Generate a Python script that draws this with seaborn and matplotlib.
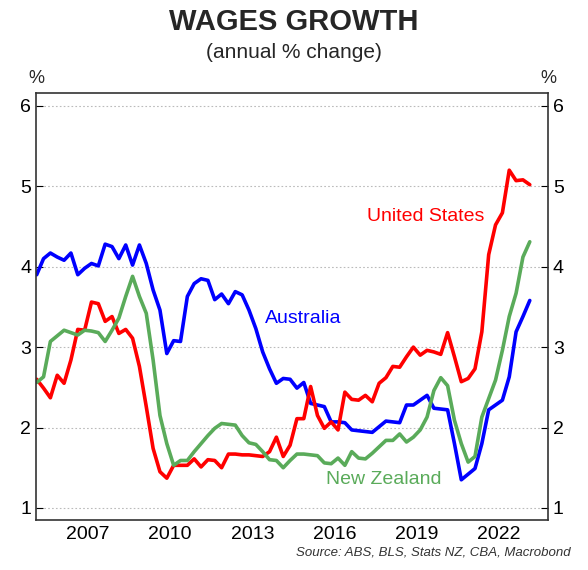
import numpy as np
import pandas as pd
import seaborn as sns
import matplotlib
matplotlib.use("Agg")
import matplotlib.pyplot as plt

australia = [3.90, 4.10, 4.17, 4.12, 4.08, 4.17, 3.90, 3.98, 4.04, 4.01, 4.28, 4.25, 4.10, 4.27, 4.02,
             4.27, 4.04, 3.71, 3.46, 2.92, 3.08, 3.07, 3.63, 3.79, 3.85, 3.83, 3.59, 3.66, 3.54, 3.69,
             3.65, 3.46, 3.23, 2.94, 2.73, 2.55, 2.61, 2.60, 2.49, 2.56, 2.30, 2.28, 2.26, 2.07, 2.07,
             2.06, 1.97, 1.96, 1.95, 1.94, 2.01, 2.08, 2.07, 2.06, 2.28, 2.28, 2.34, 2.40, 2.24, 2.23,
             2.22, 1.80, 1.35, 1.42, 1.49, 1.80, 2.22, 2.28, 2.34, 2.63, 3.19, 3.38, 3.58]
united_states = [2.60, 2.49, 2.37, 2.65, 2.55, 2.84, 3.22, 3.21, 3.56, 3.54, 3.32, 3.38, 3.17, 3.22, 3.11,
                 2.76, 2.26, 1.74, 1.45, 1.37, 1.53, 1.53, 1.53, 1.61, 1.51, 1.60, 1.59, 1.50, 1.67, 1.67,
                 1.66, 1.66, 1.65, 1.64, 1.70, 1.88, 1.64, 1.78, 2.11, 2.11, 2.51, 2.15, 1.99, 2.07, 1.97,
                 2.44, 2.35, 2.34, 2.40, 2.32, 2.55, 2.62, 2.76, 2.75, 2.88, 3.00, 2.90, 2.96, 2.94, 2.91,
                 3.18, 2.88, 2.57, 2.61, 2.73, 3.19, 4.15, 4.52, 4.67, 5.20, 5.07, 5.08, 5.02]
new_zealand = [2.56, 2.63, 3.07, 3.14, 3.21, 3.18, 3.15, 3.21, 3.20, 3.18, 3.07, 3.21, 3.36, 3.63, 3.88,
               3.63, 3.42, 2.84, 2.15, 1.80, 1.53, 1.59, 1.59, 1.70, 1.80, 1.90, 1.99, 2.05, 2.04, 2.03,
               1.90, 1.81, 1.79, 1.70, 1.60, 1.59, 1.50, 1.59, 1.67, 1.67, 1.66, 1.65, 1.56, 1.55, 1.62,
               1.53, 1.70, 1.62, 1.61, 1.68, 1.76, 1.84, 1.84, 1.92, 1.82, 1.88, 1.97, 2.13, 2.46, 2.62,
               2.52, 2.09, 1.80, 1.57, 1.64, 2.13, 2.36, 2.59, 2.96, 3.38, 3.67, 4.12, 4.31]
years = 2005.125 + 0.25 * np.arange(len(australia))
year_ticks = [2007, 2010, 2013, 2016, 2019, 2022]
y_ticks = [1, 2, 3, 4, 5, 6]

series = {"Australia": (australia, "#0000ff"),
          "United States": (united_states, "#ff0000"),
          "New Zealand": (new_zealand, "#5aab5a")}

df = pd.DataFrame({"year": np.tile(years, 3),
                   "value": australia + united_states + new_zealand,
                   "country": np.repeat(list(series.keys()), len(years))})

sns.set_style("white")
plt.rcParams["font.family"] = ["Liberation Sans", "DejaVu Sans"]

fig = plt.figure(figsize=(5.88, 5.70), dpi=100)
ax = fig.add_axes([36 / 588, 50 / 570, 512 / 588, 427 / 570])

sns.lineplot(data=df, x="year", y="value", hue="country",
             palette={k: v[1] for k, v in series.items()}, linewidth=2.6,
             legend=False, ax=ax)

ax.set_xlim(2005.1, 2023.79)
ax.set_ylim(0.85, 6.16)
ax.set_xticks(year_ticks)
ax.set_yticks(y_ticks)
ax.set_xlabel("")
ax.set_ylabel("")
ax.grid(axis="y", color="#bbbbbb", linestyle=(0, (1.5, 2)), linewidth=0.8)
ax.tick_params(axis="x", direction="in", length=5, labelsize=14, pad=4, colors="black")
ax.tick_params(axis="y", direction="in", length=5, labelsize=14, left=True, right=True,
               labelleft=True, labelright=True, colors="black")
for s in ax.spines.values():
    s.set_color("#333333")
    s.set_linewidth(1.2)

ax.text(2013.45, 3.35, "Australia", color="#0000ff", fontsize=14, va="center")
ax.text(2017.2, 4.63, "United States", color="#ff0000", fontsize=14, va="center")
ax.text(2015.7, 1.35, "New Zealand", color="#5aab5a", fontsize=14, va="center")

fig.text(0.5, 0.962, "WAGES GROWTH", ha="center", va="center", fontsize=21, fontweight="bold")
fig.text(0.5, 0.908, "(annual % change)", ha="center", va="center", fontsize=15)
fig.text(36 / 588, 0.862, "%", ha="center", va="center", fontsize=13)
fig.text(548 / 588, 0.862, "%", ha="center", va="center", fontsize=13)
fig.text(0.97, 0.03, "Source: ABS, BLS, Stats NZ, CBA, Macrobond", ha="right", va="center",
         fontsize=9.5, style="italic", color="#333333")

fig.savefig("out.png", dpi=100)
